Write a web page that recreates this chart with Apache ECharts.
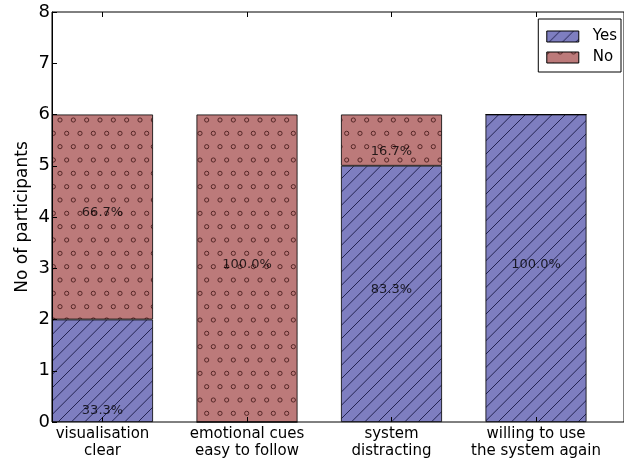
<!DOCTYPE html>
<html>
<head>
<meta charset="utf-8">
<script src="https://cdn.jsdelivr.net/npm/echarts@6/dist/echarts.min.js"></script>
<style>
  html, body { margin: 0; padding: 0; background: #fff; }
  #chart { width: 624px; height: 465px; }
</style>
</head>
<body>
<div id="chart"></div>
<script>
// Survey answers per question (number of participants)
const categories = ['visualisation\nclear', 'emotional cues\neasy to follow', 'system\ndistracting', 'willing to use\nthe system again'];
const yesCounts = [2, 0, 5, 6];
const noCounts = [4, 6, 1, 0];
// Heights (in participants) at which the percentage annotations sit
const yesLabelY = [0.23, null, 2.58, 3.08];
const noLabelY = [4.08, 3.08, 5.27, null];

const FONT = 'DejaVu Sans';

// Tiled fill with '/' hatch lines
function lineHatch(bg, ink) {
  const s = 80, step = s / 6;
  const c = document.createElement('canvas');
  c.width = c.height = s;
  const g = c.getContext('2d');
  g.fillStyle = bg; g.fillRect(0, 0, s, s);
  g.strokeStyle = ink; g.lineWidth = 1;
  for (let k = -7; k <= 7; k++) {
    g.beginPath();
    g.moveTo(k * step, s);
    g.lineTo(k * step + s, 0);
    g.stroke();
  }
  return { image: c, repeat: 'repeat' };
}

// Tiled fill with small 'o' rings in staggered rows
function ringHatch(bg, ink) {
  const s = 80, step = s / 6;
  const c = document.createElement('canvas');
  c.width = c.height = s;
  const g = c.getContext('2d');
  g.fillStyle = bg; g.fillRect(0, 0, s, s);
  g.strokeStyle = ink; g.lineWidth = 1;
  for (let i = 0; i <= 6; i++) {
    const y = i * step;
    const off = (i % 2) ? step / 2 : 0;
    for (let j = -1; j <= 7; j++) {
      g.beginPath();
      g.arc(j * step + off, y, 2.1, 0, Math.PI * 2);
      g.stroke();
    }
  }
  return { image: c, repeat: 'repeat' };
}

const yesFill = lineHatch('#7e7ec0', 'rgba(25,25,70,0.9)');
const noFill = ringHatch('#bc7a7a', 'rgba(80,35,35,0.95)');

const pct = (v, i) => (v / (yesCounts[i] + noCounts[i]) * 100).toFixed(1) + '%';

const labelData = [];
yesCounts.forEach((v, i) => { if (v > 0) labelData.push([i, yesLabelY[i], pct(v, i)]); });
noCounts.forEach((v, i) => { if (v > 0) labelData.push([i, noLabelY[i], pct(v, i)]); });

const PLOT_TOP = 12, PLOT_BOTTOM = 43;

const chart = echarts.init(document.getElementById('chart'), null, { renderer: 'canvas' });
chart.setOption({
  backgroundColor: '#fff',
  animation: false,
  textStyle: { fontFamily: FONT },
  grid: [
    // frame + participant axis
    {
      left: 52, top: PLOT_TOP, bottom: PLOT_BOTTOM, right: -6,
      show: true, borderColor: '#000', borderWidth: 1, backgroundColor: 'transparent'
    },
    // bar area: one band per question
    { left: 30.25, right: 15.75, top: PLOT_TOP, bottom: PLOT_BOTTOM }
  ],
  legend: {
    data: ['Yes', 'No'],
    orient: 'vertical',
    right: 3, top: 19,
    icon: 'rect',
    itemWidth: 32, itemHeight: 11, itemGap: 6,
    padding: [10, 4, 7, 8],
    borderColor: '#000', borderWidth: 1, backgroundColor: '#fff',
    borderRadius: 0,
    textStyle: { fontFamily: FONT, fontSize: 15, color: '#000', padding: [0, 0, 0, 9] },
    itemStyle: { borderColor: '#000', borderWidth: 1 }
  },
  xAxis: [
    { gridIndex: 0, type: 'value', min: 0, max: 1, show: false },
    {
      gridIndex: 1, type: 'category', data: categories, position: 'bottom',
      boundaryGap: true, z: 10,
      axisLine: { show: false, onZero: false },
      axisTick: { show: true, inside: true, length: 5, alignWithLabel: true, lineStyle: { color: '#000', width: 1 } },
      axisLabel: { fontFamily: FONT, fontSize: 15, lineHeight: 17, color: '#000', margin: 4, interval: 0 },
      splitLine: { show: false }
    },
    {
      gridIndex: 1, type: 'category', data: categories, position: 'top',
      boundaryGap: true, z: 10,
      axisLine: { show: false, onZero: false },
      axisTick: { show: true, inside: true, length: 5, alignWithLabel: true, lineStyle: { color: '#000', width: 1 } },
      axisLabel: { show: false },
      splitLine: { show: false }
    }
  ],
  yAxis: [
    {
      gridIndex: 0, type: 'value', min: 0, max: 8, interval: 1, z: 10,
      name: 'No of participants', nameLocation: 'middle', nameGap: 21, nameMoveOverlap: false,
      nameTextStyle: { fontFamily: FONT, fontSize: 17, color: '#000' },
      splitLine: { show: false },
      axisLine: { show: true, onZero: false, lineStyle: { color: '#000', width: 1 } },
      axisTick: { show: true, inside: true, length: 5, lineStyle: { color: '#000' } },
      axisLabel: { fontFamily: FONT, fontSize: 18, color: '#000', margin: 2 }
    },
    { gridIndex: 1, type: 'value', min: 0, max: 8, show: false }
  ],
  series: [
    {
      name: 'Yes', type: 'bar', stack: 'answers', xAxisIndex: 1, yAxisIndex: 1,
      barWidth: 101,
      data: yesCounts,
      itemStyle: { color: yesFill, borderColor: '#000', borderWidth: 0.8 }
    },
    {
      name: 'No', type: 'bar', stack: 'answers', xAxisIndex: 1, yAxisIndex: 1,
      barWidth: 101,
      data: noCounts,
      itemStyle: { color: noFill, borderColor: '#000', borderWidth: 0.8 }
    },
    {
      name: 'share', type: 'scatter', xAxisIndex: 1, yAxisIndex: 1, z: 10,
      symbolSize: 0,
      data: labelData,
      label: {
        show: true, position: 'inside',
        formatter: p => p.data[2],
        fontFamily: FONT, fontSize: 13, color: '#000'
      },
      silent: true
    }
  ]
});
</script>
</body>
</html>
